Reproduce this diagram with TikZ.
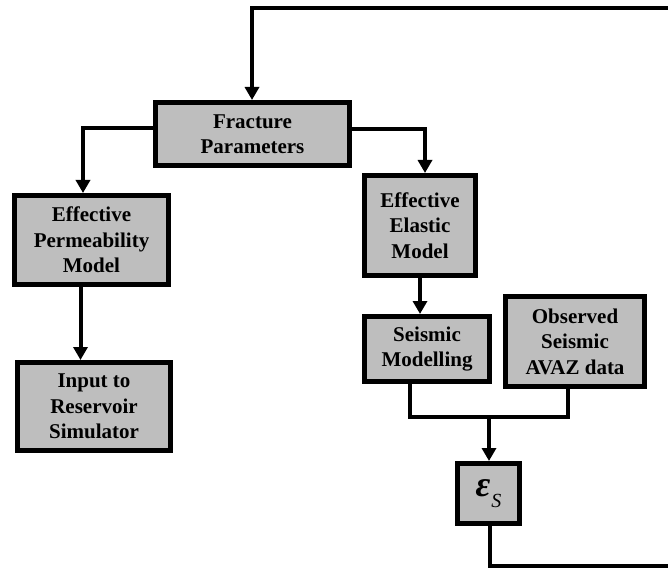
\documentclass[tikz,border=0pt]{standalone}
\usepackage{fontspec}
\setmainfont{Liberation Serif}
\usetikzlibrary{arrows.meta,calc}
\definecolor{boxgray}{RGB}{190,190,190}
\begin{document}
\begin{tikzpicture}[x=1pt,y=-1pt,
  block/.style={draw=black,fill=boxgray,line width=5pt,align=center,inner sep=0pt,
    font=\fontsize{21}{25.5}\selectfont\bfseries},
  link/.style={line width=4pt,line join=miter},
  flow/.style={link,-{Triangle[width=14pt,length=13pt]}}]
\useasboundingbox (0,0) rectangle (668,569);

% process blocks
\node[block,minimum width=194pt,minimum height=63pt] (frac) at (252.5,134) {Fracture\\Parameters};
\node[block,minimum width=154pt,minimum height=89pt] (perm) at (91.5,240) {Effective\\Permeability\\Model};
\node[block,minimum width=153pt,minimum height=88pt] (input) at (94,406.5) {Input to\\Reservoir\\Simulator};
\node[block,minimum width=111pt,minimum height=100pt] (elastic) at (420,225.5) {Effective\\Elastic\\Model};
\node[block,minimum width=125pt,minimum height=65pt] (seis) at (427,349) {Seismic\\Modelling};
\node[block,minimum width=139pt,minimum height=90pt] (obs) at (575,341.5) {Observed\\Seismic\\AVAZ data};
\node[block,minimum width=62pt,minimum height=60pt] (eps) at (488.5,493.5)
  {\fontsize{36}{36}\selectfont\bfseries\itshape ε\kern1pt\raisebox{-0.3em}{\fontsize{20}{20}\selectfont\mdseries S}};

% junction points
\coordinate (join) at (489,417);
\coordinate (loopR) at (690,566);
\coordinate (loopT) at (690,8);

% connectors
\draw[flow] (frac.west |- 0,128) -| ($(perm.north)+(-8.5,0)$);
\draw[flow] (frac.east |- 0,129) -| (elastic.north -| 425,0);
\draw[flow] ($(perm.south)+(-11,0)$) coordinate (pdown) -- (input.north -| pdown);
\draw[flow] (elastic.south) -- (seis.north -| 420,0);
\draw[link] (seis.south -| 410,0) |- (join) -| (obs.south -| 568,0);
\draw[flow] (join) -- (eps.north -| join);
\draw[flow] (eps.south -| 490,0) |- (loopR) -- (loopT) -| (frac.north -| 252,0);
\end{tikzpicture}
\end{document}
